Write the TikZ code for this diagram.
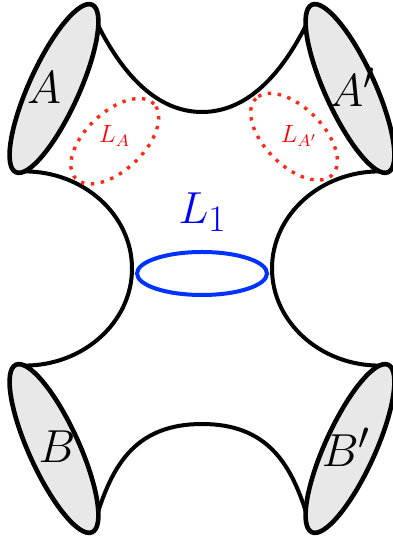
\documentclass[tikz,border=0pt]{standalone}
\definecolor{shade}{RGB}{232,232,232}
\definecolor{loopred}{RGB}{255,40,20}
\definecolor{loopblue}{RGB}{0,50,255}
\begin{document}
\begin{tikzpicture}[x=0.5pt,y=0.5pt,
  rim/.style={draw=black,line width=2.3pt,fill=shade},
  wall/.style={draw=black,line width=2pt},
  redloop/.style={draw=loopred,line width=1.7pt,dash pattern=on 1.7pt off 3.3pt},
  blueloop/.style={draw=loopblue,line width=2pt},
  biglab/.style={anchor=base,inner sep=0pt,font=\Huge,scale=0.93},
  smalllab/.style={anchor=base,inner sep=0pt,text=red,font=\large,scale=1.04}]
\useasboundingbox (0,0) rectangle (392,544);
% attachment points on the four boundary ellipses
\begin{scope}[shift={(54,455.5)},rotate=65.5]
  \coordinate (Atop) at (-35:92 and 25);
  \coordinate (Aside) at (197.7:92 and 25);
\end{scope}
\begin{scope}[shift={(350,455.5)},rotate=114.5]
  \coordinate (Aptop) at (35:92 and 25);
  \coordinate (Apside) at (162.3:92 and 25);
\end{scope}
\begin{scope}[shift={(54,95.5)},rotate=-65.5]
  \coordinate (Bbot) at (35:92 and 25);
  \coordinate (Bside) at (162.3:92 and 25);
\end{scope}
\begin{scope}[shift={(350,95.5)},rotate=65.5]
  \coordinate (Bpbot) at (145:92 and 25);
  \coordinate (Bpside) at (17.7:92 and 25);
\end{scope}
\coordinate (Tmid) at (202,432);
\coordinate (Bmid) at (202,120);
\coordinate (Lmid) at (132,275.5);
\coordinate (Rmid) at (272,275.5);
% walls
\draw[wall] (Atop) .. controls +(-63:45) and +(-50,0) .. (Tmid)
  .. controls +(50,0) and +(-117:45) .. (Aptop);
\draw[wall] (Bbot) .. controls +(72:50) and +(-65,0) .. (Bmid)
  .. controls +(65,0) and +(108:50) .. (Bpbot);
\draw[wall] (Aside) .. controls +(59,0) and +(0,53.6) .. (Lmid)
  .. controls +(0,-53.6) and +(59,0) .. (Bside);
\draw[wall] (Apside) .. controls +(-59,0) and +(0,53.6) .. (Rmid)
  .. controls +(0,-53.6) and +(-59,0) .. (Bpside);
% boundary ellipses
\draw[rim,shift={(54,455.5)},rotate=65.5] (0,0) ellipse (92 and 25);
\draw[rim,shift={(350,455.5)},rotate=114.5] (0,0) ellipse (92 and 25);
\draw[rim,shift={(54,95.5)},rotate=-65.5] (0,0) ellipse (92 and 25);
\draw[rim,shift={(350,95.5)},rotate=65.5] (0,0) ellipse (92 and 25);
% loops
\draw[redloop,shift={(114.8,402.8)},rotate=43.5] (0,0) ellipse (54 and 29);
\draw[redloop,shift={(294,407.3)},rotate=135] (0,0) ellipse (54 and 29);
\draw[blueloop] (202,270.5) ellipse (65 and 21.5);
% labels
\node[biglab] (labA) at (44,440.7) {$A$};
\node[biglab] (labAp) at (352,437.3) {$A'$};
\node[biglab] (labB) at (57,81.3) {$B$};
\node[biglab] (labBp) at (346,77.3) {$B'$};
\node[smalllab] (labLA) at (114.7,401.7) {$L_A$};
\node[smalllab] (labLAp) at (299,401.7) {$L_{A'}$};
\node[biglab,text=blue,scale=0.97] (labL1) at (202.5,320.7) {$L_1$};
\end{tikzpicture}
\end{document}
